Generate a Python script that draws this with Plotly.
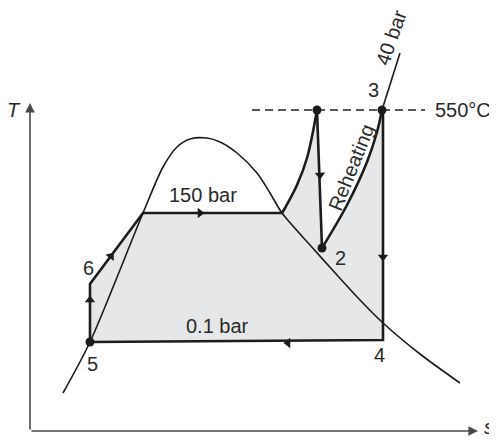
import plotly.graph_objects as go

# T-s diagram of a reheat Rankine cycle (schematic units)
dome_s = [63, 90, 143, 163, 177, 190, 207, 220, 237, 257, 270, 282, 310, 337, 360, 383, 420, 460]
dome_T = [48, 99, 228, 274, 294, 302, 303, 299, 288, 268, 248, 228, 196, 166, 141, 118, 87, 58]

# pump + boiler at 150 bar (5 -> 6 -> sat. liquid -> sat. vapour)
boil_s = [90, 90, 143, 282]
boil_T = [99, 157, 228, 228]
# superheating up to point 1
sup_s = [282, 285, 297, 307, 317]
sup_T = [228, 233, 256, 283, 331]
# expansion 1 -> 2
exp1_s = [317, 322]
exp1_T = [331, 193]
# reheating at 40 bar, 2 -> 3
reh_s = [322, 347, 367, 377, 382]
reh_T = [193, 236, 279, 309, 331]
# 40 bar line beyond 3
p40_s = [382, 400]
p40_T = [331, 388]
# expansion 3 -> 4, condensation 4 -> 5
exp2_s = [383, 383, 90]
exp2_T = [331, 101, 99]

state_s = [317, 382, 322, 90]
state_T = [331, 331, 193, 99]

# direction arrows on the cycle
arr_s = [90, 111, 200, 320, 383, 288]
arr_T = [141, 185, 228, 266, 184, 98]
arr_ang = [0, 37, 90, 178, 180, 270]

t_max = 331
labels = [
    ("3", 373, 351), ("2", 340, 183), ("4", 379, 86), ("5", 92, 77), ("6", 88, 173),
    ("150 bar", 203, 246), ("0.1 bar", 217, 115), ("550°C", 463, 331),
]

ink = "#1c1c1c"
fig = go.Figure()

# shaded cycle area
fill_s = boil_s + sup_s[1:] + exp1_s[1:] + reh_s[1:] + exp2_s[1:]
fill_T = boil_T + sup_T[1:] + exp1_T[1:] + reh_T[1:] + exp2_T[1:]
fig.add_trace(go.Scatter(x=fill_s, y=fill_T, fill="toself", fillcolor="#e6e7e9",
                         mode="none", hoverinfo="skip"))

# 550 C isotherm
fig.add_trace(go.Scatter(x=[252, 425], y=[t_max, t_max], mode="lines",
                         line=dict(color="#222", width=1.3, dash="8px,5px")))

# saturation dome
fig.add_trace(go.Scatter(x=dome_s, y=dome_T, mode="lines",
                         line=dict(color=ink, width=1.6, shape="spline", smoothing=0.8)))
fig.add_trace(go.Scatter(x=p40_s, y=p40_T, mode="lines", line=dict(color=ink, width=1.6)))

for xs, ys, shp in [(boil_s, boil_T, "linear"), (sup_s, sup_T, "spline"),
                    (exp1_s, exp1_T, "linear"), (reh_s, reh_T, "spline"),
                    (exp2_s, exp2_T, "linear")]:
    fig.add_trace(go.Scatter(x=xs, y=ys, mode="lines",
                             line=dict(color=ink, width=2.6, shape=shp)))

fig.add_trace(go.Scatter(x=arr_s, y=arr_T, mode="markers",
                         marker=dict(symbol="triangle-up", size=9, angle=arr_ang, color=ink)))
fig.add_trace(go.Scatter(x=state_s, y=state_T, mode="markers",
                         marker=dict(size=9, color=ink)))

# axes with arrows
axc = "#4a4a4a"
fig.add_annotation(x=30, y=338, ax=30, ay=10, axref="x", ayref="y", text="", showarrow=True,
                   arrowhead=2, arrowsize=1.2, arrowwidth=1.6, arrowcolor=axc)
fig.add_annotation(x=478, y=10, ax=30, ay=10, axref="x", ayref="y", text="", showarrow=True,
                   arrowhead=2, arrowsize=1.2, arrowwidth=1.6, arrowcolor=axc)

font = dict(family="Liberation Sans, Arial, sans-serif", size=20, color="#2a2a2a")
for txt, sx, ty in labels:
    fig.add_annotation(x=sx, y=ty, text=txt, showarrow=False, font=font)
fig.add_annotation(x=14, y=331, text="<i>T</i>", showarrow=False, font=font)
fig.add_annotation(x=489, y=14, text="<i>s</i>", showarrow=False, font=font)
fig.add_annotation(x=351, y=273, text="Reheating", textangle=-68, showarrow=False, font=font)
fig.add_annotation(x=391, y=403, text="40 bar", textangle=-71, showarrow=False, font=font)

# the page puts the plot 8px in from the top-left corner, so the
# figure is 8px smaller and its ranges start at that offset
fig.update_layout(
    width=489, height=433, margin=dict(l=0, r=0, t=0, b=0),
    showlegend=False, plot_bgcolor="white", paper_bgcolor="white",
    xaxis=dict(range=[8, 497], visible=False, fixedrange=True),
    yaxis=dict(range=[0, 433], visible=False, fixedrange=True),
)

fig.write_html("out.html")
